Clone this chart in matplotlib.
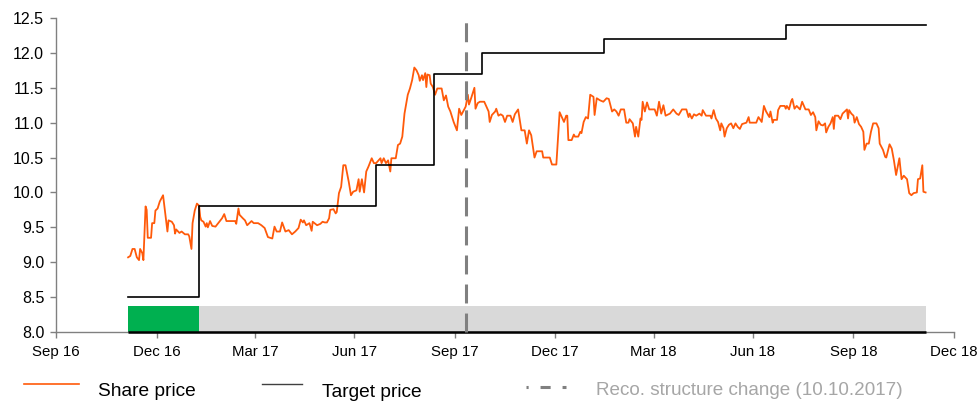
import matplotlib
matplotlib.use('Agg')
import matplotlib.pyplot as plt
import matplotlib.dates as mdates
import pandas as pd
from matplotlib.lines import Line2D

plt.rcParams['font.family'] = ['Liberation Sans', 'DejaVu Sans']

# ---------------- data ----------------
price_dates = [
    '2016-12-05', '2016-12-07', '2016-12-09', '2016-12-11', '2016-12-13', '2016-12-15', '2016-12-16',
    '2016-12-18', '2016-12-19', '2016-12-21', '2016-12-22', '2016-12-23', '2016-12-26', '2016-12-27',
    '2016-12-29', '2016-12-30', '2017-01-01', '2017-01-03', '2017-01-06', '2017-01-08', '2017-01-10',
    '2017-01-11', '2017-01-14', '2017-01-16', '2017-01-17', '2017-01-18', '2017-01-21', '2017-01-23',
    '2017-01-26', '2017-01-29', '2017-01-30', '2017-02-01', '2017-02-02', '2017-02-04', '2017-02-06',
    '2017-02-08', '2017-02-09', '2017-02-10', '2017-02-12', '2017-02-14', '2017-02-15', '2017-02-16',
    '2017-02-18', '2017-02-20', '2017-02-23', '2017-02-26', '2017-03-01', '2017-03-03', '2017-03-05',
    '2017-03-08', '2017-03-13', '2017-03-14', '2017-03-16', '2017-03-17', '2017-03-20', '2017-03-22',
    '2017-03-24', '2017-03-26', '2017-03-28', '2017-03-30', '2017-04-03', '2017-04-06', '2017-04-09',
    '2017-04-12', '2017-04-16', '2017-04-18', '2017-04-20', '2017-04-23', '2017-04-25', '2017-04-28',
    '2017-05-01', '2017-05-04', '2017-05-07', '2017-05-10', '2017-05-12', '2017-05-14', '2017-05-15',
    '2017-05-17', '2017-05-20', '2017-05-22', '2017-05-23', '2017-05-27', '2017-05-30', '2017-06-01',
    '2017-06-03', '2017-06-05', '2017-06-07', '2017-06-08', '2017-06-11', '2017-06-13', '2017-06-14',
    '2017-06-16', '2017-06-18', '2017-06-20', '2017-06-22', '2017-06-25', '2017-06-27', '2017-06-29',
    '2017-07-02', '2017-07-04', '2017-07-05', '2017-07-07', '2017-07-09', '2017-07-11', '2017-07-13',
    '2017-07-16', '2017-07-18', '2017-07-20', '2017-07-24', '2017-07-25', '2017-07-27', '2017-07-29',
    '2017-07-31', '2017-08-02', '2017-08-03', '2017-08-07', '2017-08-09', '2017-08-11', '2017-08-13',
    '2017-08-15', '2017-08-18', '2017-08-20', '2017-08-22', '2017-08-24', '2017-08-26', '2017-08-28',
    '2017-08-29', '2017-08-31', '2017-09-01', '2017-09-03', '2017-09-04', '2017-09-05', '2017-09-07',
    '2017-09-08', '2017-09-10', '2017-09-12', '2017-09-14', '2017-09-18', '2017-09-20', '2017-09-22',
    '2017-09-24', '2017-09-26', '2017-09-29', '2017-10-02', '2017-10-04', '2017-10-06', '2017-10-08',
    '2017-10-10', '2017-10-12', '2017-10-13', '2017-10-15', '2017-10-18', '2017-10-19', '2017-10-21',
    '2017-10-23', '2017-10-27', '2017-10-29', '2017-10-31', '2017-11-01', '2017-11-03', '2017-11-06',
    '2017-11-07', '2017-11-09', '2017-11-11', '2017-11-13', '2017-11-15', '2017-11-17', '2017-11-20',
    '2017-11-22', '2017-11-24', '2017-11-27', '2017-11-30', '2017-12-03', '2017-12-05', '2017-12-07',
    '2017-12-09', '2017-12-12', '2017-12-14', '2017-12-19', '2017-12-20', '2017-12-26', '2017-12-28',
    '2018-01-01', '2018-01-04', '2018-01-06', '2018-01-08', '2018-01-10', '2018-01-11', '2018-01-12',
    '2018-01-15', '2018-01-17', '2018-01-18', '2018-01-21', '2018-01-23', '2018-01-24', '2018-01-26',
    '2018-01-28', '2018-01-30', '2018-02-01', '2018-02-04', '2018-02-05', '2018-02-07', '2018-02-10',
    '2018-02-13', '2018-02-16', '2018-02-18', '2018-02-21', '2018-02-23', '2018-02-25', '2018-02-27',
    '2018-03-01', '2018-03-04', '2018-03-06', '2018-03-08', '2018-03-09', '2018-03-12', '2018-03-14',
    '2018-03-15', '2018-03-17', '2018-03-19', '2018-03-20', '2018-03-21', '2018-03-23', '2018-03-25',
    '2018-03-27', '2018-03-29', '2018-04-01', '2018-04-03', '2018-04-05', '2018-04-07', '2018-04-09',
    '2018-04-11', '2018-04-15', '2018-04-18', '2018-04-21', '2018-04-23', '2018-04-26', '2018-04-30',
    '2018-05-02', '2018-05-03', '2018-05-05', '2018-05-07', '2018-05-09', '2018-05-12', '2018-05-14',
    '2018-05-15', '2018-05-18', '2018-05-22', '2018-05-23', '2018-05-25', '2018-05-27', '2018-05-29',
    '2018-05-31', '2018-06-01', '2018-06-03', '2018-06-04', '2018-06-06', '2018-06-08', '2018-06-10',
    '2018-06-12', '2018-06-14', '2018-06-16', '2018-06-18', '2018-06-20', '2018-06-22', '2018-06-24',
    '2018-06-26', '2018-06-27', '2018-07-03', '2018-07-05', '2018-07-08', '2018-07-10', '2018-07-12',
    '2018-07-15', '2018-07-16', '2018-07-18', '2018-07-19', '2018-07-22', '2018-07-23', '2018-07-25',
    '2018-07-29', '2018-07-30', '2018-07-31', '2018-08-02', '2018-08-04', '2018-08-05', '2018-08-07',
    '2018-08-09', '2018-08-12', '2018-08-14', '2018-08-17', '2018-08-20', '2018-08-22', '2018-08-24',
    '2018-08-26', '2018-08-27', '2018-08-29', '2018-08-31', '2018-09-02', '2018-09-04', '2018-09-05',
    '2018-09-07', '2018-09-09', '2018-09-11', '2018-09-12', '2018-09-13', '2018-09-16', '2018-09-18',
    '2018-09-20', '2018-09-22', '2018-09-24', '2018-09-25', '2018-09-26', '2018-09-28', '2018-09-30',
    '2018-10-01', '2018-10-03', '2018-10-05', '2018-10-07', '2018-10-09', '2018-10-10', '2018-10-12',
    '2018-10-14', '2018-10-16', '2018-10-18', '2018-10-21', '2018-10-23', '2018-10-24', '2018-10-27',
    '2018-10-29', '2018-10-30', '2018-11-02', '2018-11-04', '2018-11-06', '2018-11-08', '2018-11-11',
    '2018-11-13', '2018-11-15', '2018-11-18', '2018-11-20', '2018-11-22', '2018-11-24', '2018-11-27',
    '2018-11-28', '2018-11-30', '2018-12-02', '2018-12-03', '2018-12-05',
]
price_values = [
    9.07, 9.09, 9.19, 9.19, 9.07, 9.03, 9.19,
    9.13, 9.03, 9.80, 9.75, 9.35, 9.35, 9.56,
    9.56, 9.74, 9.77, 9.87, 9.96, 9.70, 9.44,
    9.60, 9.58, 9.53, 9.41, 9.47, 9.42, 9.44,
    9.40, 9.40, 9.37, 9.19, 9.56, 9.74, 9.84,
    9.81, 9.65, 9.60, 9.58, 9.51, 9.56, 9.50,
    9.59, 9.52, 9.51, 9.57, 9.63, 9.69, 9.59,
    9.59, 9.59, 9.55, 9.77, 9.68, 9.63, 9.60,
    9.53, 9.56, 9.59, 9.56, 9.56, 9.53, 9.49,
    9.36, 9.34, 9.51, 9.44, 9.44, 9.57, 9.44,
    9.46, 9.40, 9.44, 9.49, 9.61, 9.57, 9.60,
    9.53, 9.56, 9.45, 9.58, 9.53, 9.55, 9.58,
    9.57, 9.57, 9.63, 9.75, 9.76, 9.70, 9.72,
    9.99, 10.08, 10.39, 10.39, 10.15, 9.96, 10.01,
    10.03, 10.19, 10.01, 10.19, 10.00, 10.30, 10.37,
    10.49, 10.42, 10.42, 10.49, 10.42, 10.49, 10.42,
    10.46, 10.30, 10.49, 10.49, 10.68, 10.70, 10.80,
    11.13, 11.40, 11.49, 11.61, 11.79, 11.75, 11.68,
    11.60, 11.68, 11.61, 11.71, 11.51, 11.69, 11.68,
    11.56, 11.51, 11.40, 11.49, 11.49, 11.32, 11.39,
    11.23, 11.16, 11.01, 10.89, 11.20, 11.11, 11.17,
    11.23, 11.40, 11.26, 11.35, 11.50, 11.20, 11.28,
    11.30, 11.30, 11.23, 11.16, 11.01, 11.11, 11.16,
    11.20, 11.10, 11.12, 11.10, 11.01, 11.10, 11.10,
    11.01, 11.12, 11.19, 10.89, 10.89, 10.70, 10.89,
    10.82, 10.50, 10.59, 10.59, 10.50, 10.50, 10.40,
    10.40, 11.15, 11.08, 11.01, 11.10, 11.10, 10.75,
    10.75, 10.83, 10.80, 10.80, 10.87, 10.85, 11.01,
    11.08, 11.06, 11.40, 11.37, 11.11, 11.35, 11.32,
    11.30, 11.35, 11.34, 11.16, 11.19, 11.16, 11.10,
    11.19, 11.19, 11.00, 11.00, 11.05, 10.99, 10.80,
    10.94, 10.80, 11.06, 11.04, 11.30, 11.16, 11.29,
    11.19, 11.19, 11.19, 11.10, 11.30, 11.13, 11.25,
    11.10, 11.13, 11.19, 11.13, 11.11, 11.19, 11.19,
    11.08, 11.13, 11.06, 11.12, 11.10, 11.13, 11.10,
    11.18, 11.10, 11.10, 11.06, 11.18, 11.06, 11.01,
    10.89, 10.99, 10.92, 10.80, 10.92, 10.97, 10.99,
    10.92, 10.99, 10.94, 10.91, 10.98, 10.99, 11.00,
    11.08, 11.00, 11.00, 11.08, 11.01, 11.24, 11.16,
    11.08, 11.16, 11.00, 11.04, 11.04, 11.18, 11.24,
    11.24, 11.20, 11.24, 11.19, 11.31, 11.34, 11.20,
    11.24, 11.19, 11.30, 11.19, 11.19, 11.11, 11.15,
    11.08, 10.89, 11.02, 10.97, 10.96, 10.99, 10.86,
    10.94, 10.99, 11.08, 10.91, 11.10, 11.10, 11.05,
    11.13, 11.16, 11.19, 11.06, 11.18, 11.13, 11.10,
    11.00, 11.08, 10.98, 10.94, 10.87, 10.61, 10.70,
    10.70, 10.87, 10.99, 10.99, 10.92, 10.70, 10.61,
    10.51, 10.50, 10.69, 10.63, 10.46, 10.25, 10.49,
    10.19, 10.24, 10.19, 9.99, 9.96, 9.99, 10.00,
    10.19, 10.20, 10.39, 10.01, 10.00,
]

target_dates = ['2016-12-05', '2017-02-08', '2017-07-20', '2017-09-11',
                '2017-10-25', '2018-02-14', '2018-07-30', '2018-12-05']
target_values = [8.5, 9.8, 10.4, 11.7, 12.0, 12.2, 12.4, 12.4]

rating_starts = ['2016-12-05', '2017-02-08']
rating_ends = ['2017-02-08', '2018-12-05']
rating_names = ['Buy', 'Not comparable']
rating_bar_height = 0.37

reco_change_date = '2017-10-10'

tick_dates = ['2016-09-30', '2016-12-31', '2017-03-31', '2017-06-30', '2017-09-30',
              '2017-12-31', '2018-03-31', '2018-06-30', '2018-09-30', '2018-12-31']
tick_labels = ['Sep 16', 'Dec 16', 'Mar 17', 'Jun 17', 'Sep 17',
               'Dec 17', 'Mar 18', 'Jun 18', 'Sep 18', 'Dec 18']
y_ticks = [8.0, 8.5, 9.0, 9.5, 10.0, 10.5, 11.0, 11.5, 12.0, 12.5]

# ---------------- style ----------------
ORANGE = '#FF5A0A'
GREEN = '#00B050'
LIGHTGREY = '#D9D9D9'
DASHGREY = '#808080'
rating_colors = {'Buy': GREEN, 'Not comparable': LIGHTGREY}

W, H = 978, 401
fig = plt.figure(figsize=(W / 100, H / 100), dpi=100)
ax = fig.add_axes([56 / W, 1 - 332 / H, 898 / W, 314 / H])

pdates = pd.to_datetime(price_dates)
tdates = pd.to_datetime(target_dates)

# rating bars
for s, e, name in zip(rating_starts, rating_ends, rating_names):
    s_num = mdates.date2num(pd.Timestamp(s))
    e_num = mdates.date2num(pd.Timestamp(e))
    ax.broken_barh([(s_num, e_num - s_num)], (8.0, rating_bar_height),
                   facecolors=rating_colors[name], edgecolor='none', zorder=1)
ax.plot([pd.Timestamp(rating_starts[0]), pd.Timestamp(rating_ends[-1])], [8.0, 8.0],
        color='black', lw=1.8, solid_capstyle='butt', clip_on=False, zorder=5)

# share price
ax.plot(pdates, price_values, color=ORANGE, lw=1.3, zorder=3)
# target price
ax.plot(tdates, target_values, color='black', lw=1.2, drawstyle='steps-post', zorder=4)
# reco change line
rc = pd.Timestamp(reco_change_date)
ax.plot([rc, rc], [8.0, 12.5], color=DASHGREY, lw=2.2, dashes=(6.2, 3.3), zorder=6,
        clip_on=False)

ax.set_xlim(pd.Timestamp(tick_dates[0]), pd.Timestamp(tick_dates[-1]))
ax.set_ylim(8.0, 12.5)
ax.set_xticks(pd.to_datetime(tick_dates))
ax.set_xticklabels(tick_labels)
ax.set_yticks(y_ticks)
ax.set_yticklabels([f'{v:.1f}' for v in y_ticks])

for sp in ['top', 'right']:
    ax.spines[sp].set_visible(False)
for sp in ['left', 'bottom']:
    ax.spines[sp].set_color(DASHGREY)
    ax.spines[sp].set_linewidth(1.0)
ax.tick_params(axis='both', direction='out', length=4.5, width=1.0, color=DASHGREY,
               labelcolor='black')
ax.tick_params(axis='y', pad=4, labelsize=11.5)
ax.tick_params(axis='x', pad=5, labelsize=10.8)

# ---------------- legend (manual) ----------------
def fx(px):
    return px / W

def fy(py):
    return 1 - py / H

fig.add_artist(Line2D([fx(24), fx(79)], [fy(384), fy(384)], color=ORANGE, lw=1.2))
fig.text(fx(98), fy(396), 'Share price', fontsize=13.8, color='black', va='baseline', ha='left')
fig.add_artist(Line2D([fx(262), fx(302)], [fy(384), fy(384)], color='#404040', lw=1.0))
fig.text(fx(322), fy(397), 'Target price', fontsize=13.8, color='black', va='baseline', ha='left')
fig.add_artist(Line2D([fx(526), fx(566)], [fy(387), fy(387)], color=DASHGREY, lw=2.2,
                      linestyle=(2.6, (3.3, 3.9))))
fig.text(fx(596), fy(395), 'Reco. structure change (10.10.2017)', fontsize=13.6,
         color='#A6A6A6', va='baseline', ha='left')

fig.savefig('out.png', dpi=100)
